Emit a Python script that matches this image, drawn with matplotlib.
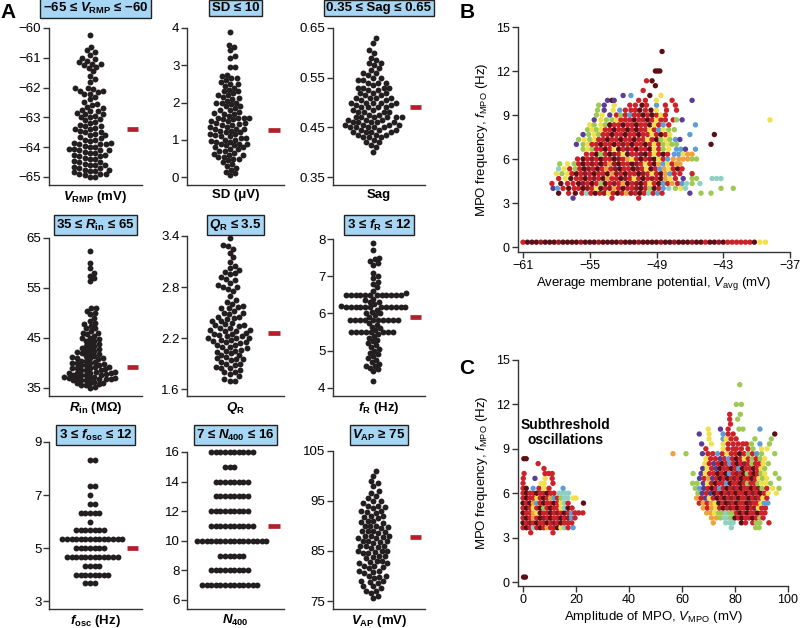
import numpy as np
import matplotlib
matplotlib.use("Agg")
import matplotlib.pyplot as plt
from matplotlib.ticker import FormatStrFormatter
from matplotlib.transforms import blended_transform_factory

plt.rcParams['font.family'] = ['Liberation Sans', 'DejaVu Sans']
plt.rcParams['mathtext.fontset'] = 'custom'
plt.rcParams['mathtext.rm'] = 'Liberation Sans'
plt.rcParams['mathtext.it'] = 'Liberation Sans:italic:bold'
plt.rcParams['mathtext.bf'] = 'Liberation Sans:bold'
plt.rcParams['mathtext.sf'] = 'Liberation Sans:italic'

# ======================================================
# Panel A data (one value per model neuron)
# ======================================================
VRMP = [-60.25, -60.65, -60.75, -60.8, -60.9, -61.0, -61.05, -61.1, -61.15, -61.2, -61.2, -61.25,
        -61.3, -61.35, -61.45, -61.6, -61.7, -61.8, -62.0, -62.0, -62.05, -62.1, -62.1, -62.15,
        -62.2, -62.3, -62.4, -62.5, -62.55, -62.6, -62.65, -62.7, -62.75, -62.8, -62.8, -62.85,
        -62.9, -62.95, -63.0, -63.0, -63.05, -63.1, -63.15, -63.2, -63.25, -63.3, -63.35, -63.4,
        -63.4, -63.45, -63.5, -63.55, -63.6, -63.6, -63.65, -63.7, -63.75, -63.8, -63.85, -63.85,
        -63.9, -63.9, -63.95, -64.0, -64.0, -64.05, -64.1, -64.1, -64.15, -64.2, -64.2, -64.25,
        -64.3, -64.3, -64.35, -64.4, -64.4, -64.45, -64.5, -64.5, -64.55, -64.6, -64.6, -64.65,
        -64.7, -64.7, -64.75, -64.8, -64.8, -64.85, -64.9, -64.9, -64.95, -65.0, -65.0, -63.9,
        -64.1, -64.6, -64.9, -62.9, -63.3, -63.75, -64.25, -64.75, -63.5, -62.2, -64.05]
SD = [3.9, 3.55, 3.5, 3.4, 3.25, 3.2, 2.95, 2.95, 2.75, 2.7, 2.65, 2.65, 2.6, 2.55, 2.5, 2.5,
      2.45, 2.4, 2.35, 2.3, 2.3, 2.25, 2.2, 2.2, 2.15, 2.1, 2.05, 2.0, 2.0, 1.95, 1.9, 1.9, 1.85,
      1.8, 1.8, 1.75, 1.7, 1.7, 1.65, 1.6, 1.6, 1.6, 1.55, 1.55, 1.5, 1.5, 1.45, 1.45, 1.4, 1.4,
      1.35, 1.35, 1.3, 1.3, 1.25, 1.25, 1.2, 1.2, 1.15, 1.15, 1.1, 1.1, 1.05, 1.05, 1.0, 1.0,
      0.95, 0.95, 0.9, 0.9, 0.85, 0.85, 0.8, 0.8, 0.75, 0.75, 0.7, 0.7, 0.65, 0.6, 0.6, 0.55,
      0.55, 0.5, 0.5, 0.45, 0.4, 0.35, 0.3, 0.25, 0.2, 0.15, 0.1, 0.05, 2.0, 1.6, 1.12, 0.98,
      1.42, 1.28, 0.88, 2.12, 1.72, 0.62]
SAG = [0.63, 0.62, 0.605, 0.60, 0.59, 0.585, 0.58, 0.58, 0.575, 0.57, 0.565, 0.56, 0.56, 0.555,
       0.55, 0.55, 0.545, 0.54, 0.54, 0.54, 0.535, 0.53, 0.53, 0.53, 0.525, 0.52, 0.52, 0.52,
       0.515, 0.51, 0.51, 0.51, 0.505, 0.50, 0.50, 0.50, 0.495, 0.49, 0.49, 0.49, 0.485, 0.48,
       0.48, 0.48, 0.475, 0.47, 0.47, 0.47, 0.47, 0.465, 0.465, 0.46, 0.46, 0.46, 0.46, 0.455,
       0.455, 0.45, 0.45, 0.45, 0.45, 0.445, 0.445, 0.44, 0.44, 0.44, 0.435, 0.435, 0.43, 0.43,
       0.43, 0.425, 0.42, 0.42, 0.415, 0.41, 0.40, 0.53, 0.545, 0.5, 0.49, 0.475, 0.465, 0.455,
       0.44, 0.485, 0.515, 0.525, 0.505, 0.495, 0.46, 0.47, 0.45, 0.435, 0.48, 0.51, 0.50, 0.47,
       0.455, 0.445]
RIN = [62.5, 60.0, 59.0, 58.0, 57.5, 57.0, 56.5, 51.0, 51.0, 50.5, 50.0, 49.8, 49.0, 48.5, 48.0,
       47.5, 47.0, 47.0, 46.5, 46.0, 46.0, 45.5, 45.0, 45.0, 44.5, 44.5, 44.0, 43.5, 43.5, 43.0,
       43.0, 42.5, 42.5, 42.0, 42.0, 41.5, 41.5, 41.0, 41.0, 41.0, 40.5, 40.5, 40.0, 40.0, 40.0,
       39.5, 39.5, 39.5, 39.0, 39.0, 39.0, 38.5, 38.5, 38.5, 38.0, 38.0, 38.0, 38.0, 37.5, 37.5,
       37.5, 37.5, 37.0, 37.0, 37.0, 37.0, 36.5, 36.5, 36.5, 36.0, 36.0, 36.0, 35.5, 35.5, 35.2,
       35.0, 44.8, 42.8, 41.2, 39.8, 38.8, 37.8, 36.8, 40.8, 39.2, 37.2, 38.2, 45.8, 47.8, 43.8,
       42.2, 41.8, 40.2, 39.3, 38.3, 37.3, 36.7, 36.3, 35.7, 36.9]
QR = [3.38, 3.3, 3.28, 3.25, 3.2, 3.15, 3.1, 3.05, 3.0, 2.98, 2.95, 2.92, 2.9, 2.85, 2.82, 2.8,
      2.8, 2.78, 2.75, 2.7, 2.65, 2.6, 2.58, 2.55, 2.55, 2.52, 2.5, 2.5, 2.48, 2.45, 2.45, 2.42,
      2.4, 2.4, 2.38, 2.35, 2.35, 2.32, 2.3, 2.3, 2.28, 2.25, 2.25, 2.22, 2.2, 2.2, 2.2, 2.18,
      2.15, 2.15, 2.12, 2.1, 2.1, 2.08, 2.05, 2.05, 2.02, 2.0, 2.0, 1.98, 1.95, 1.95, 1.92, 1.9,
      1.9, 1.88, 1.85, 1.85, 1.82, 1.8, 1.8, 1.78, 1.75, 1.72, 1.7, 1.7, 2.24, 2.16, 2.06, 1.96,
      2.36, 2.26, 2.14, 2.04, 2.44, 2.34, 1.94, 1.86, 2.28, 2.18, 2.12, 2.22, 2.32, 2.56, 2.62,
      3.02, 2.88, 2.96]
FR = [7.9, 7.7, 7.5, 7.45, 7.4, 7.35, 7.3, 7.1, 7.0, 6.95, 6.85, 6.8, 6.7, 6.6, 6.55,
      6.5, 6.5, 6.5, 6.5, 6.5, 6.5, 6.5, 6.5, 6.5, 6.5, 6.5, 6.5, 6.4, 6.35, 6.3, 6.3, 6.25, 6.2,
      6.17, 6.17, 6.17, 6.17, 6.17, 6.17, 6.17, 6.17, 6.17, 6.17, 6.17, 6.17, 6.1, 6.05, 6.0, 6.0,
      5.95, 5.9, 5.83, 5.83, 5.83, 5.83, 5.83, 5.83, 5.83, 5.83, 5.83, 5.83, 5.75, 5.7, 5.65,
      5.6, 5.55, 5.5, 5.5, 5.5, 5.5, 5.5, 5.5, 5.5, 5.5, 5.45, 5.4, 5.35, 5.3, 5.25, 5.2, 5.15,
      5.1, 5.05, 5.0, 4.95, 4.9, 4.85, 4.8, 4.75, 4.7, 4.65, 4.6, 4.6, 4.55, 4.5, 4.45, 4.2]
FOSC = [8.33, 8.33, 7.33, 7.33, 7.0, 6.67, 6.67, 6.33, 6.33, 6.33, 6.33, 6.33, 6.0,
        5.67, 5.67, 5.67, 5.67, 5.67, 5.67, 5.67,
        5.33, 5.33, 5.33, 5.33, 5.33, 5.33, 5.33, 5.33, 5.33, 5.33, 5.33, 5.33, 5.33, 5.33,
        5.0, 5.0, 5.0, 5.0, 5.0, 5.0, 5.0,
        4.67, 4.67, 4.67, 4.67, 4.67, 4.67, 4.67, 4.67, 4.67, 4.67, 4.67, 4.67,
        4.33, 4.33, 4.33, 4.33, 4.0, 4.0, 4.0, 4.0, 4.0, 4.0, 4.0, 4.0, 3.67, 3.67, 3.67]
N400 = [16] * 10 + [15] * 3 + [14] * 8 + [13] * 8 + [12] * 9 + [11] * 10 + [10] * 16 \
    + [9] * 6 + [8] * 9 + [7] * 13
VAP = [101, 100, 99, 98.5, 98, 97, 96.5, 96, 95.5, 95, 95, 94.5, 94, 94, 93.5, 93, 93, 92.5, 92,
       92, 91.5, 91, 91, 90.5, 90, 90, 90, 89.5, 89, 89, 89, 88.5, 88, 88, 88, 87.5, 87.5, 87,
       87, 87, 86.5, 86, 86, 86, 85.5, 85, 85, 85, 84.5, 84.5, 84, 84, 83.5, 83, 83, 82.5, 82.5,
       82, 82, 81.5, 81, 81, 80.5, 80, 80, 79.5, 79, 79, 78.5, 78, 78, 77.5, 77, 77, 76.5, 76,
       75.5, 92.8, 88.8, 86.8, 84.8, 82.8, 80.8, 90.8, 89.8, 87.8, 85.8, 83.8, 81.8, 79.8, 91.8,
       93.8, 78.8]

# experimental target (red bar)
A_TARGET = [-63.4, 1.27, 0.49, 39.3, 2.26, 5.9, 5.0, 11.0, 87.7]

# ======================================================
# Panel B: V_avg per MPO frequency level
# ======================================================
B_FREQ = [0.33, 3.33, 3.67, 4.0, 4.33, 4.67, 5.0, 5.33, 5.67, 6.0, 6.33, 6.67, 7.0, 7.33,
          7.67, 8.0, 8.33, 8.67, 9.0, 9.33, 9.67, 10.0, 10.33, 10.67, 11.0, 11.33, 12.0, 13.33]
B_VAVG = [
    [-61.0, -60.6, -60.2, -59.8, -59.4, -59.0, -58.6, -58.2, -57.8, -57.4, -57.0, -56.6, -56.2,
     -55.8, -55.4, -55.0, -54.6, -54.2, -53.8, -53.4, -53.0, -52.6, -52.2, -51.8, -51.4, -51.0,
     -50.6, -50.2, -49.8, -49.4, -49.0, -48.6, -48.2, -47.8, -47.4, -47.0, -46.6, -46.2, -45.8,
     -45.4, -45.0, -44.6, -44.2, -43.8, -43.4, -43.0, -42.6, -42.2, -41.8, -41.4, -41.0, -40.6,
     -40.2, -39.7, -39.2],
    [-56.5, -53.0, -50.6],
    [-57.8, -56.9, -56.3, -55.7, -55.3, -54.9, -54.5, -54.1, -53.7, -53.3, -52.9, -52.5, -52.1,
     -51.7, -51.3, -50.9, -50.5, -50.1, -49.7, -49.3, -48.9, -48.5, -46.0, -45.0, -44.1],
    [-58.3, -57.9, -57.4, -56.9, -56.4, -56.0, -55.6, -55.2, -54.8, -54.4, -54.0, -53.6, -53.2,
     -52.8, -52.4, -52.0, -51.6, -51.2, -50.8, -50.4, -50.0, -49.6, -49.2, -48.8, -48.4, -47.9,
     -47.3, -46.8, -46.4, -43.2, -42.1],
    [-58.4, -57.6, -57.0, -56.5, -56.0, -55.6, -55.2, -54.8, -54.4, -54.0, -53.6, -53.2, -52.8,
     -52.4, -52.0, -51.6, -51.2, -50.8, -50.4, -50.0, -49.6, -49.2, -48.8, -48.4, -48.0, -47.6,
     -47.1, -46.7, -46.3, -45.8, -45.1],
    [-57.8, -57.2, -56.7, -56.2, -55.8, -55.4, -55.0, -54.6, -54.2, -53.8, -53.4, -53.0, -52.6,
     -52.2, -51.8, -51.4, -51.0, -50.6, -50.2, -49.8, -49.4, -49.0, -48.6, -48.2, -47.8, -47.3,
     -46.6, -45.8, -45.4, -44.0, -43.6, -43.2],
    [-58.0, -57.5, -57.0, -56.6, -56.2, -55.8, -55.4, -55.0, -54.6, -54.2, -53.8, -53.4, -53.0,
     -52.6, -52.2, -51.8, -51.4, -51.0, -50.6, -50.2, -49.8, -49.4, -49.0, -48.6, -48.2, -47.8,
     -47.4, -46.9, -45.8],
    [-57.8, -57.3, -56.8, -56.3, -55.9, -55.5, -55.1, -54.7, -54.3, -53.9, -53.5, -53.1, -52.7,
     -52.3, -51.9, -51.5, -51.1, -50.7, -50.3, -49.9, -49.5, -49.1, -48.7, -48.3, -47.9, -47.5,
     -47.1, -46.7],
    [-57.7, -57.0, -56.4, -56.0, -55.6, -55.2, -54.8, -54.4, -54.0, -53.6, -53.2, -52.8, -52.4,
     -52.0, -51.6, -51.2, -50.8, -50.4, -50.0, -49.6, -49.2, -48.8, -48.4, -48.0, -47.6, -47.2,
     -46.9],
    [-56.1, -55.6, -55.2, -54.8, -54.4, -54.0, -53.6, -53.2, -52.8, -52.4, -52.0, -51.6, -51.2,
     -50.8, -50.4, -50.0, -49.6, -49.2, -48.8, -48.4, -48.0, -47.5, -47.0, -46.6, -46.2, -45.8,
     -45.4],
    [-55.3, -54.8, -54.4, -54.0, -53.6, -53.2, -52.8, -52.4, -52.0, -51.6, -51.2, -50.8, -50.4,
     -50.0, -49.6, -49.2, -48.8, -48.4, -48.0, -47.4, -47.0, -46.6, -46.2, -45.8],
    [-55.6, -55.2, -54.8, -54.4, -54.0, -53.6, -53.2, -52.8, -52.4, -52.0, -51.6, -51.2, -50.8,
     -50.4, -50.0, -49.6, -49.2, -48.8, -48.4, -47.9, -47.2, -46.8, -46.4, -45.5],
    [-56.2, -55.6, -55.2, -54.8, -54.4, -54.0, -53.6, -53.2, -52.8, -52.4, -52.0, -51.6, -51.2,
     -50.8, -50.4, -50.0, -49.6, -49.2, -48.8, -48.4, -48.0, -47.6, -47.2, -44.1],
    [-56.0, -55.5, -55.0, -54.6, -54.2, -53.8, -53.4, -53.0, -52.6, -52.2, -51.8, -51.4, -51.0,
     -50.6, -50.2, -49.8, -49.4, -49.0, -48.6, -48.2, -47.8, -47.3, -46.9],
    [-55.6, -55.1, -54.6, -54.2, -53.8, -53.4, -53.0, -52.6, -52.2, -51.8, -51.4, -51.0, -50.6,
     -50.2, -49.8, -49.4, -49.0, -48.6, -48.2, -47.8, -46.0, -43.8],
    [-55.2, -54.8, -54.4, -54.0, -53.6, -53.2, -52.8, -52.4, -52.0, -51.6, -51.2, -50.8, -50.4,
     -50.0, -49.6, -49.2, -48.8, -48.4, -47.9, -47.4],
    [-55.0, -54.6, -54.0, -53.6, -53.2, -52.8, -52.4, -52.0, -51.6, -51.2, -50.8, -50.4, -50.0,
     -49.6, -49.2, -48.8, -48.4, -47.9, -45.5],
    [-54.6, -54.0, -53.5, -53.0, -52.6, -52.2, -51.8, -51.4, -51.0, -50.6, -50.2, -49.8, -49.4,
     -49.0, -48.6, -48.2, -47.5, -47.2, -46.7, -38.8],
    [-54.4, -53.9, -53.2, -52.6, -52.2, -51.8, -51.4, -51.0, -50.6, -50.2, -49.8, -49.4, -49.0,
     -48.6, -48.2],
    [-54.3, -53.7, -52.9, -52.3, -51.8, -51.3, -50.9, -50.5, -50.0, -49.5, -49.0, -48.1, -47.2],
    [-54.2, -53.7, -52.8, -51.4, -50.9, -50.3, -49.9, -49.0, -48.2, -47.3],
    [-53.4, -53.0, -52.8, -50.6, -50.0, -49.0, -47.6, -45.8],
    [-52.0, -51.3, -49.6, -48.6],
    [-50.2],
    [-49.1],
    [-49.9, -49.4],
    [-49.1, -48.9, -48.7],
    [-48.5],
]
B_COL = [
    "RDDDMDDDMDDDDMDDDMDDDDMDDDMDDDDMDDMDDDMDDRDDMDRRRRRRDYY",
    "PRR",
    "DRDRTRDRMYRDROMRDRTRBRPGG",
    "PBRDRRDMRYDRMORDRRMDRGDRBTGYTGG",
    "RDRRDMRDRGDRMRODRMDRYRDBRORBTGT",
    "RYDRRDRMRDORRDMRYRDRMRDOYRPGGTTT",
    "YGYRDRMRDRRDOMRDRRDMRYRDOBRRR",
    "TYRGRDMRDRORMDRRDMRYDRBOYRDR",
    "GYGRDRMRDROMDRRDMRYRDOBYROO",
    "RDRMRDRRDMROYRDRMDYRBOOOOGG",
    "RRDGRDMRYDRRMDRYRDRBBYOO",
    "GYGRRDRYDRMRDRRDYRGYBBPB",
    "PGYRRDRRDRMRDRRDRYRGYGGD",
    "GYGYRRDRRDRRDRRYRDGYGBP",
    "PGYGRRDRRDRRDRRYRDRYBD",
    "GYGYRRDRRDRDRRYRBYGG",
    "YGYGDRRDRRDRRDYRBRB",
    "PYGGYRRRDRRDRYRRRGPY",
    "GYPRGRBRRDRDRYR",
    "GPYBRRRDRDYRR",
    "GPYRRDRBRR",
    "PDPRRYRP",
    "PBDY",
    "R",
    "D",
    "RD",
    "DDD",
    "D",
]

# ======================================================
# Panel C: MPO amplitude per frequency level
# ======================================================
C_SUB_FREQ = [0.33, 3.33, 3.67, 4.0, 4.33, 4.67, 5.0, 5.33, 5.67, 6.0, 6.33, 6.67, 7.0, 7.33,
              7.67, 8.0, 8.33]
C_SUB_AMP = [
    [0.2, 0.9],
    [2.9, 11.3],
    [0.0, 1.3, 2.6, 3.9, 5.2, 6.5, 7.8, 9.1, 10.4, 11.7, 13.0, 14.3, 15.6, 17.0, 18.9],
    [0.0, 1.3, 2.6, 3.9, 5.2, 6.5, 7.8, 9.1, 10.4, 11.7, 13.0, 14.3, 15.6, 17.0, 18.4],
    [0.0, 1.3, 2.6, 3.9, 5.2, 6.5, 7.8, 9.1, 10.4, 11.7, 13.0, 14.3, 15.6, 17.0, 18.3, 19.6],
    [0.0, 1.3, 2.6, 3.9, 5.2, 6.5, 7.8, 9.1, 10.4, 11.7, 13.0, 14.3, 15.6, 17.0, 18.3, 19.6,
     21.0, 22.6],
    [0.0, 1.3, 2.6, 3.9, 5.2, 6.5, 7.8, 9.1, 10.4, 11.7, 13.0, 14.3, 15.6, 17.0, 18.5],
    [0.0, 1.3, 2.6, 3.9, 5.2, 6.5, 7.8, 9.1, 10.4, 11.7, 13.0, 14.3, 15.6, 17.0, 22.8],
    [0.0, 1.3, 2.6, 3.9, 5.2, 6.5, 7.8, 9.1, 10.4, 11.7, 13.0, 14.3, 15.6, 16.9, 18.9, 20.0],
    [0.0, 1.3, 2.6, 3.9, 5.2, 6.5, 7.8, 9.1, 10.4, 11.7, 13.6, 14.8, 16.0, 17.2],
    [0.0, 1.2, 3.8, 6.0, 7.9, 9.8, 15.1],
    [0.0, 6.8, 8.0, 11.3],
    [0.1, 4.5, 8.3, 11.0],
    [0.4, 8.3, 9.7, 11.0],
    [7.9],
    [5.7],
    [0.3, 1.2],
]
C_SUB_COL = ["DD", "RR", "RDRTRDRORRDYTRB", "DRMRDRRDRMRDRRR", "RDRORDMRDRRDRMBR",
             "DRROYDRRDRMRDRBRRR", "RDRYRDGRDRRYTDR", "DRDOBRDRRDRYTRD", "RDRRYRDROBRGTTYY",
             "RDRRDRRDRRTTTT", "RDBRYRB", "RYYR", "RPYR", "RRRR", "R", "R", "DD"]

C_SPK_FREQ = [3.67, 4.0, 4.33, 4.67, 5.0, 5.33, 5.67, 6.0, 6.33, 6.67, 7.0, 7.33, 7.67, 8.0,
              8.33, 8.67, 9.0, 9.33, 9.67, 10.0, 10.33, 10.67, 11.0, 11.33, 12.0, 13.33]
C_SPK_AMP = [
    [78.6, 87.8, 89.1],
    [71.8, 76.5, 78.0, 79.3, 82.4, 84.0, 86.7, 88.0, 89.4, 92.8],
    [71.1, 73.0, 74.5, 76.0, 77.3, 78.6, 80.0, 81.3, 82.6, 84.0, 85.3, 86.6, 88.0, 89.3, 90.6],
    [69.3, 70.8, 72.3, 73.8, 75.2, 76.6, 78.0, 79.3, 80.6, 82.0, 83.3, 84.6, 86.0, 87.3, 88.6,
     90.0, 91.3],
    [68.0, 69.6, 71.2, 72.7, 74.2, 75.6, 77.0, 78.4, 79.7, 81.0, 82.3, 83.6, 84.9, 86.2, 87.5,
     88.8, 90.1, 91.5],
    [66.5, 68.0, 69.5, 71.0, 72.5, 73.9, 75.3, 76.7, 78.0, 79.3, 80.6, 81.9, 83.2, 84.5, 85.8,
     87.1, 88.4, 89.7, 91.0, 92.4],
    [65.5, 67.2, 68.8, 70.3, 71.8, 73.3, 74.7, 76.1, 77.5, 78.8, 80.1, 81.4, 82.7, 84.0, 85.3,
     86.6, 87.9, 89.2, 90.5, 92.0],
    [66.0, 67.6, 69.2, 70.7, 72.2, 73.6, 75.0, 76.4, 77.8, 79.1, 80.4, 81.7, 83.0, 84.3, 85.6,
     86.9, 88.2, 89.5, 91.0, 92.5, 95.6],
    [65.0, 66.6, 68.2, 69.8, 71.3, 72.8, 74.2, 75.6, 77.0, 78.4, 79.7, 81.0, 82.3, 83.6, 84.9,
     86.2, 87.5, 88.8, 90.2, 92.0, 94.2, 96.6],
    [64.0, 65.7, 68.0, 69.6, 71.1, 72.6, 74.0, 75.4, 76.8, 78.2, 79.5, 80.8, 82.1, 83.4, 84.7,
     86.0, 87.3, 88.6, 90.0, 91.6, 93.4],
    [66.6, 68.4, 70.0, 71.5, 73.0, 74.4, 75.8, 77.2, 78.6, 79.9, 81.2, 82.5, 83.8, 85.1, 86.4,
     87.7, 89.0, 90.4, 92.0, 96.6],
    [64.2, 67.2, 68.8, 70.4, 72.0, 73.5, 75.0, 76.5, 77.9, 79.3, 80.7, 82.0, 83.3, 84.6, 85.9,
     87.2, 88.5, 89.8, 91.2, 95.2],
    [67.8, 69.5, 71.2, 72.8, 74.3, 75.8, 77.2, 78.6, 80.0, 81.4, 82.8, 84.2, 85.6, 87.0, 88.4,
     89.8, 91.2],
    [68.6, 70.3, 72.0, 73.6, 75.1, 76.6, 78.0, 79.4, 80.8, 82.2, 83.6, 85.0, 86.4, 87.8, 89.2,
     90.6, 92.6],
    [69.0, 70.8, 72.6, 74.4, 76.0, 77.5, 79.0, 80.5, 82.0, 83.5, 85.0, 86.5, 88.0, 89.5, 91.2],
    [56.6, 61.5, 67.7, 69.8, 71.6, 73.4, 75.2, 77.0, 78.6, 80.2, 81.8, 83.4, 85.0, 86.6, 88.2,
     90.0, 95.0],
    [69.0, 75.5, 77.4, 79.3, 80.5, 82.4, 84.9, 86.8, 90.0, 92.1],
    [67.4, 71.1, 75.5, 77.4, 79.3, 81.2, 83.0, 84.3, 86.2, 89.4, 93.0],
    [70.2, 75.5, 76.6, 78.5, 80.4, 87.5, 93.7],
    [66.5, 70.2, 75.5, 77.4, 79.3, 95.0],
    [69.9, 74.5, 77.4, 81.5, 83.0, 89.4],
    [78.3],
    [78.0, 81.0],
    [78.0, 82.0],
    [80.5, 82.4],
    [81.8],
]
C_SPK_COL = ["TGG", "OTTTDRRGGR", "OOGTTGDRDRRDRGR", "OOYGGTGGRDRDRRDRR",
             "OROYRDRMRDRRDRMYRR", "ROROYDRDMRDRRDMRRYBB",
             "ORPYRDRDRMRDRRDRMRYR", "GPRPDRDRMRDRRDRMRDRYY", "GBPRDRBRDRMRDRRDRMGRYG",
             "GGPYRDRRBDRRDRGRRGYYG", "PROPRDRDRMRDRRDRYGYG", "GPYRRDRDBRMRDGRDRGYG",
             "PYRPDRRDRBDRRDRYG", "YRPRDRBRDRMRGRRYG", "YRRPRBRDRYRGRGY",
             "OGPRRBRYRRDRGRBGG", "RYRRRRRGYY", "PYYRRRRRGBG", "YBYRRGG", "PYBRRD", "YPRGGB",
             "R", "RG", "RG", "GG", "G"]

PALETTE = {"D": "#5c0f14", "M": "#931b23", "R": "#cc2229", "Y": "#f1e04a", "G": "#9dc954",
           "T": "#8fd0c2", "B": "#5e9ed8", "P": "#5a3c93", "O": "#efa23b"}


def flatten_rows(levels, xs, cols):
    px, py, pc = [], [], []
    for lev, row, col in zip(levels, xs, cols):
        assert len(row) == len(col), (lev, len(row), len(col))
        px += list(row)
        py += [lev] * len(row)
        pc += [PALETTE[c] for c in col]
    return px, py, pc


def swarm_offsets(vals, lo, hi, h_px, d):
    # simple beeswarm in pixel space
    ys = (np.asarray(vals, float) - lo) / (hi - lo) * h_px
    xs = np.zeros(len(ys))
    placed = []
    for i in np.argsort(ys):
        y = ys[i]
        near = [(xj, yj) for xj, yj in placed if abs(yj - y) < d]
        cands = [0.0]
        for xj, yj in near:
            dx = np.sqrt(max(d * d - (y - yj) ** 2, 0))
            cands += [xj + dx, xj - dx]
        cands.sort(key=abs)
        for c in cands:
            if all((c - xj) ** 2 + (y - yj) ** 2 >= d * d - 1e-6 for xj, yj in near):
                xs[i] = c
                break
        placed.append((xs[i], y))
    return xs


W, H = 800, 628
fig = plt.figure(figsize=(W / 100, H / 100), dpi=100)


def px_axes(left, top, right, bottom):
    return fig.add_axes([left / W, 1 - bottom / H, (right - left) / W, (bottom - top) / H])


DOT = "#231f20"
TARGET_RED = "#b3202c"
BOX_BLUE = "#a6d6f3"

A_VALUES = [VRMP, SD, SAG, RIN, QR, FR, FOSC, N400, VAP]
A_TITLES = ["\u221265 \u2264 $V_{\\mathbf{RMP}}$ \u2264 \u221260", "SD \u2264 10",
            "0.35 \u2264 Sag \u2264 0.65", "35 \u2264 $R_{\\mathbf{in}}$ \u2264 65",
            "$Q_{\\mathbf{R}}$ \u2264 3.5", "3 \u2264 $f_{\\mathbf{R}}$ \u2264 12",
            "3 \u2264 $f_{\\mathbf{osc}}$ \u2264 12", "7 \u2264 $N_{\\mathbf{400}}$ \u2264 16",
            "$V_{\\mathbf{AP}}$ \u2265 75"]
A_XLABELS = ["$V_{\\mathbf{RMP}}$ (mV)", "SD (\u03bcV)", "Sag", "$R_{\\mathbf{in}}$ (M\u03a9)",
             "$Q_{\\mathbf{R}}$", "$f_{\\mathbf{R}}$ (Hz)", "$f_{\\mathbf{osc}}$ (Hz)",
             "$N_{\\mathbf{400}}$", "$V_{\\mathbf{AP}}$ (mV)"]
A_TICKS = [[-65, -64, -63, -62, -61, -60], [0, 1, 2, 3, 4], [0.35, 0.45, 0.55, 0.65],
           [35, 45, 55, 65], [1.6, 2.2, 2.8, 3.4], [4, 5, 6, 7, 8], [3, 5, 7, 9],
           [6, 8, 10, 12, 14, 16], [75, 85, 95, 105]]
A_FMT = [None, None, "%.2f", None, "%.1f", None, None, None, None]
A_YLO = [-65.27, -0.21, 0.334, 33.4, 1.518, 3.785, 2.7, 5.39, 73.4]
# swarm spacing: looser for continuous measures, tight for discrete counts
A_GAP = [5.5, 5.5, 5.6, 4.8, 5.5, 4.9, 4.6, 4.6, 5.6]

col_left = [49, 187, 333]
col_right = [142, 284, 425]
row_bottom = [185, 396, 609]
panel_top = [28, 28, 28, 238, 236, 239, 442, 452, 451]
title_y = [8, 8, 8, 225, 225, 225, 435, 435, 435]

for k in range(9):
    r, c = divmod(k, 3)
    ax = px_axes(col_left[c], panel_top[k], col_right[c], row_bottom[r])
    lo, hi = A_YLO[k], A_TICKS[k][-1]
    ax.set_ylim(lo, hi)
    ax.set_xlim(0, 1)
    h_px = row_bottom[r] - panel_top[k]
    w_px = col_right[c] - col_left[c]
    off = swarm_offsets(A_VALUES[k], lo, hi, h_px, A_GAP[k])
    trans = blended_transform_factory(ax.transAxes, ax.transData)
    ax.scatter(0.44 + off / w_px, A_VALUES[k], s=18, color=DOT, linewidths=0,
               transform=trans, clip_on=False, zorder=3)
    ax.hlines(A_TARGET[k], 0.84, 0.96, color=TARGET_RED, linewidth=3.4, transform=trans)
    ax.set_yticks(A_TICKS[k])
    if A_FMT[k]:
        ax.yaxis.set_major_formatter(FormatStrFormatter(A_FMT[k]))
    ax.set_xticks([])
    for s in ["top", "right"]:
        ax.spines[s].set_visible(False)
    for s in ["left", "bottom"]:
        ax.spines[s].set_linewidth(1.0)
        ax.spines[s].set_color("#333333")
    ax.tick_params(axis="y", length=4, width=1.0, color="#333333", labelsize=9.5, pad=1.5)
    ax.set_xlabel(A_XLABELS[k], fontsize=9.5, fontweight="bold", labelpad=3)
    fig.text((col_left[c] + col_right[c]) / 2 / W, 1 - title_y[k] / H, A_TITLES[k],
             ha="center", va="center", fontsize=9.5, fontweight="bold",
             bbox=dict(boxstyle="square,pad=0.18", facecolor=BOX_BLUE,
                       edgecolor="#222222", linewidth=1.0))


def style_xy(ax):
    for s in ["top", "right"]:
        ax.spines[s].set_visible(False)
    for s in ["left", "bottom"]:
        ax.spines[s].set_linewidth(1.0)
        ax.spines[s].set_color("#333333")
    ax.tick_params(length=4, width=1.0, color="#333333", labelsize=9, pad=2)


# ======================================================
# Panel B
# ======================================================
axb = px_axes(518, 27, 790, 252)
bx, by, bc = flatten_rows(B_FREQ, B_VAVG, B_COL)
axb.scatter(bx, by, s=15, c=bc, linewidths=0, clip_on=False, zorder=3)
axb.set_xlim(-61.45, -37)
axb.set_ylim(-0.34, 15)
axb.set_xticks([-61, -55, -49, -43, -37])
axb.set_yticks([0, 3, 6, 9, 12, 15])
style_xy(axb)
axb.set_xlabel("Average membrane potential, $\\mathsf{V}_{\\mathrm{avg}}$ (mV)",
               fontsize=9.5, labelpad=2)
axb.set_ylabel("MPO frequency, $\\mathsf{f}_{\\mathrm{MPO}}$ (Hz)", fontsize=9.5, labelpad=4)

# ======================================================
# Panel C
# ======================================================
axc = px_axes(518, 360, 788, 586)
sx, sy, scol = flatten_rows(C_SUB_FREQ, C_SUB_AMP, C_SUB_COL)
hx, hy, hcol = flatten_rows(C_SPK_FREQ, C_SPK_AMP, C_SPK_COL)
axc.scatter(sx + hx, sy + hy, s=15, c=scol + hcol, linewidths=0, clip_on=False, zorder=3)
axc.set_xlim(-1.9, 100)
axc.set_ylim(-0.27, 15)
axc.set_xticks([0, 20, 40, 60, 80, 100])
axc.set_yticks([0, 3, 6, 9, 12, 15])
style_xy(axc)
axc.set_xlabel("Amplitude of MPO, $\\mathsf{V}_{\\mathrm{MPO}}$ (mV)", fontsize=9.5, labelpad=2)
axc.set_ylabel("MPO frequency, $\\mathsf{f}_{\\mathrm{MPO}}$ (Hz)", fontsize=9.5, labelpad=4)
axc.text(16, 10.1, "Subthreshold\noscillations", ha="center", va="center",
         fontsize=10, fontweight="bold", linespacing=1.05)

# panel letters
for lab, x, y in [("A", 8, 12), ("B", 467, 12), ("C", 467, 368)]:
    fig.text(x / W, 1 - y / H, lab, ha="center", va="center", fontsize=15, fontweight="bold")

fig.savefig("out.png", dpi=100)
